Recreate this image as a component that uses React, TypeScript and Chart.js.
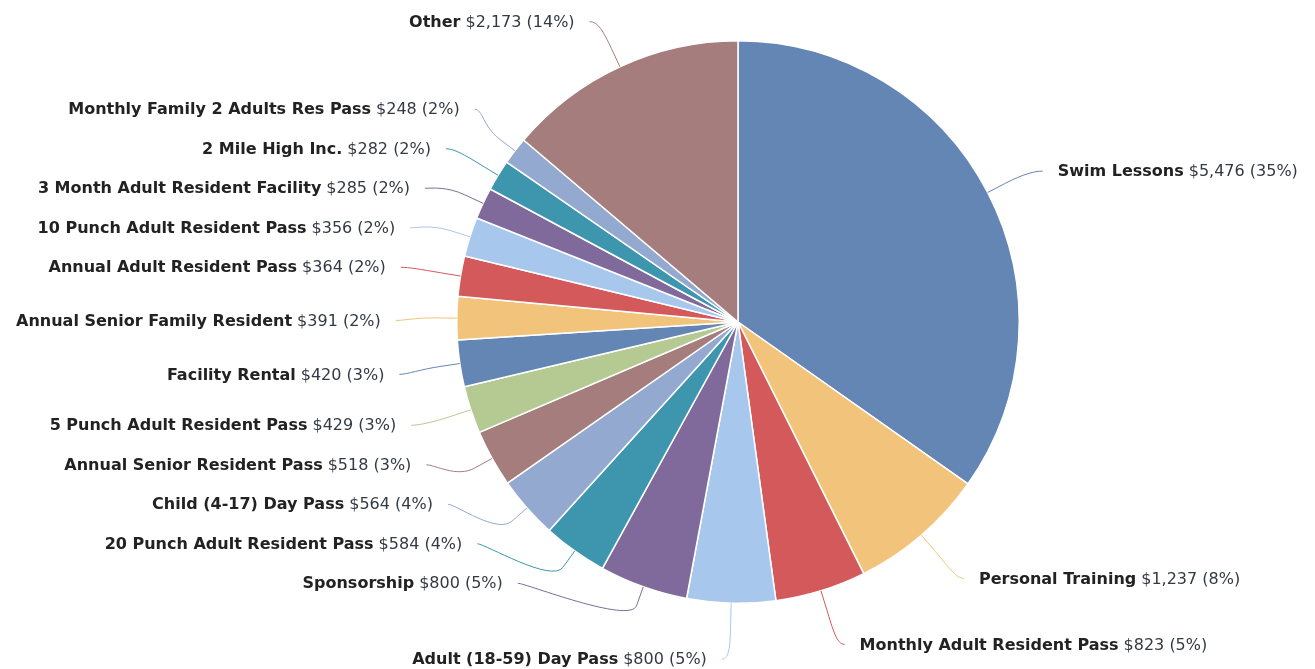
import React, { useEffect, useRef } from "react";
import { Chart, registerables } from "chart.js";

Chart.register(...registerables);

const categories = [
  "Swim Lessons",
  "Personal Training",
  "Monthly Adult Resident Pass",
  "Adult (18-59) Day Pass",
  "Sponsorship",
  "20 Punch Adult Resident Pass",
  "Child (4-17) Day Pass",
  "Annual Senior Resident Pass",
  "5 Punch Adult Resident Pass",
  "Facility Rental",
  "Annual Senior Family Resident",
  "Annual Adult Resident Pass",
  "10 Punch Adult Resident Pass",
  "3 Month Adult Resident Facility",
  "2 Mile High Inc.",
  "Monthly Family 2 Adults Res Pass",
  "Other",
];

const values = [5476, 1237, 823, 800, 800, 584, 564, 518, 429, 420, 391, 364, 356, 285, 282, 248, 2173];

const percentLabels = ["35%", "8%", "5%", "5%", "5%", "4%", "4%", "3%", "3%", "3%", "2%", "2%", "2%", "2%", "2%", "2%", "14%"];

const palette = ["#6486b4", "#f2c47b", "#d3595b", "#a7c8ec", "#80699b", "#3d96ae", "#94a9cf", "#a47d7c", "#b5ca92"];

const colors = categories.map((_, i) => palette[i % palette.length]);

const NAME_FONT = "bold 16px 'DejaVu Sans'";
const VALUE_FONT = "16px 'DejaVu Sans'";

const labelPlugin = {
  id: "outsideLabels",
  afterDatasetsDraw(chart: any) {
    const ctx = chart.ctx as CanvasRenderingContext2D;
    const meta = chart.getDatasetMeta(0);
    const labelDistance = 53;
    const centerShift = 3;
    const slotHeight = 39.5;
    const connPad = 8;
    const textPad = 23;

    const items = meta.data.map((arc: any, i: number) => {
      const p = arc.getProps(["x", "y", "startAngle", "endAngle", "outerRadius"], true);
      const mid = (p.startAngle + p.endAngle) / 2;
      const r = p.outerRadius;
      const R = r + labelDistance;
      const cyL = p.y + centerShift;
      const side = Math.cos(mid) >= 0 ? 1 : -1;
      return { i, cx: p.x, cy: p.y, cyL, r, R, mid, side, natY: cyL + R * Math.sin(mid), y: 0, xY: 0 };
    });
    if (!items.length) return;
    const cyL0 = items[0].cyL;
    const R0 = items[0].R;

    const slotYs: number[] = [];
    for (let pos = cyL0 - R0; pos <= cyL0 + R0; pos += slotHeight) slotYs.push(pos);
    const n = slotYs.length;

    [1, -1].forEach((s) => {
      const group = items.filter((it: any) => it.side === s).sort((a: any, b: any) => a.natY - b.natY);
      const used: boolean[] = slotYs.map(() => false);
      const idx: number[] = [];
      let prev = -1;
      group.forEach((it: any, j: number) => {
        let best = 0;
        let bd = Infinity;
        for (let k = 0; k < n; k++) {
          const d = Math.abs(slotYs[k] - it.natY);
          if (d < bd) {
            bd = d;
            best = k;
          }
        }
        const lo = prev + 1;
        const hi = n - (group.length - j);
        best = Math.min(Math.max(best, lo), hi);
        idx.push(best);
        used[best] = true;
        prev = best;
      });
      group.forEach((it: any, j: number) => {
        const k = idx[j];
        let y = slotYs[k];
        const belowFree = k + 1 >= n || !used[k + 1];
        const aboveFree = k - 1 < 0 || !used[k - 1];
        if ((it.natY > y && belowFree) || (it.natY < y && aboveFree)) y = it.natY;
        it.y = y;
        it.xY = k === 0 || k === n - 1 ? it.natY : y;
      });
    });

    ctx.save();
    items.forEach((it: any) => {
      const { cx, cy, cyL, r, R, mid, side, y, xY, i } = it;
      const dy = xY - cyL;
      const dx = Math.sqrt(Math.max(R * R - dy * dy, 0));
      const x = cx + side * dx;
      const ex = cx + r * Math.cos(mid);
      const ey = cy + r * Math.sin(mid);
      const bx = cx + (r + 20) * Math.cos(mid);
      const by = cy + (r + 20) * Math.sin(mid);
      const c2x = cx + (r + 40) * Math.cos(mid);
      const c2y = cy + (r + 40) * Math.sin(mid);

      ctx.beginPath();
      ctx.moveTo(x + side * connPad, y);
      ctx.bezierCurveTo(x, y, c2x, c2y, bx, by);
      ctx.lineTo(ex, ey);
      ctx.strokeStyle = colors[i];
      ctx.lineWidth = 1;
      ctx.stroke();

      const name = categories[i];
      const val = "$" + values[i].toLocaleString("en-US") + " (" + percentLabels[i] + ")";
      ctx.textBaseline = "middle";
      ctx.font = NAME_FONT;
      const nameW = ctx.measureText(name).width;
      ctx.font = VALUE_FONT;
      const valW = ctx.measureText(val).width;
      const space = 5;
      const tx = x + side * textPad;
      const ty = y + 1;
      let nameX: number;
      let valX: number;
      if (side > 0) {
        nameX = tx;
        valX = tx + nameW + space;
      } else {
        valX = tx - valW;
        nameX = valX - space - nameW;
      }
      ctx.textAlign = "left";
      ctx.font = NAME_FONT;
      ctx.fillStyle = "#222222";
      ctx.fillText(name, nameX, ty);
      ctx.font = VALUE_FONT;
      ctx.fillStyle = "#333a44";
      ctx.fillText(val, valX, ty);
    });
    ctx.restore();
  },
};

export default function App() {
  const ref = useRef<HTMLCanvasElement | null>(null);
  useEffect(() => {
    if (!ref.current) return;
    const chart = new Chart(ref.current, {
      type: "pie",
      data: {
        labels: categories,
        datasets: [
          {
            data: values,
            backgroundColor: colors,
            borderColor: "#ffffff",
            borderWidth: 1.5,
          },
        ],
      },
      options: {
        responsive: false,
        animation: false,
        devicePixelRatio: 1,
        layout: { padding: { left: 456, right: 295, top: 40, bottom: 65 } },
        plugins: {
          legend: { display: false },
          tooltip: { enabled: false },
        },
      },
      plugins: [labelPlugin],
    } as any);
    return () => chart.destroy();
  }, []);
  return (
    <div style={{ position: "absolute", left: 0, top: 0, width: 1315, height: 669, background: "#fff" }}>
      <canvas ref={ref} width={1315} height={669} style={{ display: "block" }} />
    </div>
  );
}
